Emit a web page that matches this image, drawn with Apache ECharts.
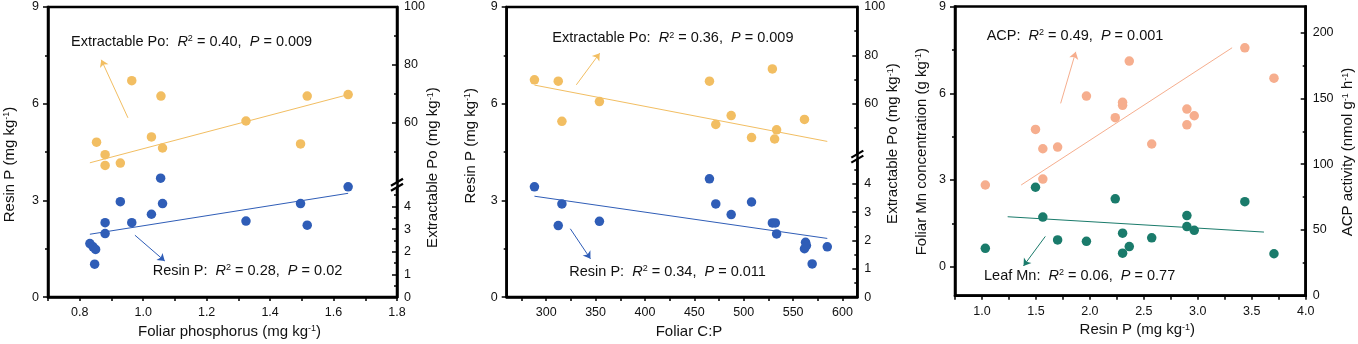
<!DOCTYPE html>
<html>
<head>
<meta charset="utf-8">
<script src="https://cdn.jsdelivr.net/npm/echarts@6/dist/echarts.min.js"></script>
<style>
  html, body { margin: 0; padding: 0; background: #fff; }
  #chart { width: 1358px; height: 344px; }
</style>
</head>
<body>
<div id="chart"></div>
<script>
// ---- panel 1: foliar P ----
const p1ResinX = [0.832, 0.842, 0.850, 0.847, 0.880, 0.880, 0.928, 0.964, 1.026, 1.055, 1.061, 1.324, 1.496, 1.517, 1.646];
const p1Resin = [1.66, 1.56, 1.48, 1.02, 2.31, 1.97, 2.96, 2.31, 2.57, 3.69, 2.90, 2.36, 2.90, 2.23, 3.42];
const p1PoX = [0.853, 0.880, 0.880, 0.928, 0.964, 1.026, 1.056, 1.061, 1.324, 1.496, 1.517, 1.646];
const p1Po = [53.4, 49.1, 45.4, 46.2, 74.6, 55.2, 69.3, 51.4, 60.7, 52.8, 69.3, 69.8];
const p1ResinFit = [[0.832, 1.95], [1.646, 3.22]];
const p1PoFit = [[0.832, 46.3], [1.646, 69.8]];
const p1ResinArrow = [[0.974, 1.92], [1.068, 1.12]];
const p1PoArrow = [[0.952, 61.8], [0.868, 81.8]];
const p1XLabels = [0.8, 1.0, 1.2, 1.4, 1.6, 1.8];
const p1XTicks = [0.7, 0.8, 0.9, 1.0, 1.1, 1.2, 1.3, 1.4, 1.5, 1.6, 1.7, 1.8];

// ---- panel 2: foliar C:P ----
const p2ResinX = [288.1, 312.2, 315.9, 353.9, 465.3, 471.7, 487.3, 507.9, 529.0, 532.0, 533.3, 562.6, 561.5, 563.5, 569.3, 584.6];
const p2Resin = [3.42, 2.22, 2.89, 2.35, 3.67, 2.89, 2.56, 2.95, 2.30, 2.30, 1.96, 1.70, 1.50, 1.60, 1.03, 1.56];
const p2PoX = [288.1, 312.2, 315.9, 353.9, 465.3, 471.7, 487.3, 507.9, 529.0, 533.3, 531.3, 561.5];
const p2Po = [69.9, 69.3, 52.7, 60.9, 69.3, 51.4, 55.1, 46.0, 74.4, 49.2, 45.4, 53.5];
const p2ResinFit = [[288.1, 3.13], [584.6, 1.82]];
const p2PoFit = [[288.1, 67.7], [584.6, 44.4]];
const p2ResinArrow = [[324.4, 2.12], [344.8, 1.19]];
const p2PoArrow = [[330.5, 67.8], [354.2, 80.9]];
const p2XLabels = [300, 350, 400, 450, 500, 550, 600];
const p2XTicks = [275, 300, 325, 350, 375, 400, 425, 450, 475, 500, 525, 550, 575, 600];

// ---- panel 3: resin P vs ACP / leaf Mn ----
const p3AcpX = [1.031, 1.496, 1.564, 1.564, 1.701, 1.968, 2.235, 2.303, 2.303, 2.365, 2.573, 2.899, 2.899, 2.967, 3.436, 3.706];
const p3Acp = [84.2, 126.5, 111.8, 88.7, 113.1, 151.9, 135.4, 147.1, 144.8, 178.5, 115.4, 142.0, 130.0, 136.9, 188.6, 165.5];
const p3MnX = [1.031, 1.496, 1.564, 1.701, 1.968, 2.235, 2.303, 2.303, 2.365, 2.573, 2.899, 2.899, 2.967, 3.436, 3.706];
const p3Mn = [0.64, 2.75, 1.72, 0.93, 0.88, 2.35, 1.16, 0.47, 0.70, 1.00, 1.77, 1.39, 1.26, 2.25, 0.45];
const p3AcpFit = [[1.363, 84.2], [3.318, 188.6]];
const p3MnFit = [[1.238, 1.73], [3.613, 1.20]];
const p3AcpArrow = [[1.729, 146.3], [1.869, 185.5]];
const p3MnArrow = [[1.587, 1.05], [1.385, 0.03]];
const p3XLabels = [1.0, 1.5, 2.0, 2.5, 3.0, 3.5, 4.0];
const p3XTicks = [0.75, 1.0, 1.25, 1.5, 1.75, 2.0, 2.25, 2.5, 2.75, 3.0, 3.25, 3.5, 3.75, 4.0];

// right-hand (broken) axes
const poLowLabels = [0, 1, 2, 3, 4];
const poLowMinor = [0.5, 1.5, 2.5, 3.5, 4.5];
const poHighLabels = [60, 80, 100];
const poHighMinor = [50, 70, 90];
const mnLabels = [0, 3, 6, 9];
const mnMinor = [1.5, 4.5, 7.5];
const acpLabels = [0, 50, 100, 150, 200];
const acpMinor = [25, 75, 125, 175];

const ORANGE = '#F2BE62';
const BLUE = '#2F5DB7';
const SALMON = '#F6AE8E';
const TEAL = '#1A7B6B';
const FONT = '"Liberation Sans", Arial, sans-serif';
const INK = '#111';

const zip = (xs, ys) => xs.map((x, i) => [x, ys[i]]);

const nameRich = {
  n: { fontSize: 15, fontFamily: FONT, color: INK },
  s: { fontSize: 9, fontFamily: FONT, color: INK, verticalAlign: 'top' }
};

function xAxis(grid, min, max, labels, ticks, name, fmt) {
  return {
    type: 'value', gridIndex: grid, min, max,
    axisLine: { show: true, onZero: false, lineStyle: { color: '#000', width: 2.5 } },
    axisTick: { show: true, customValues: ticks, length: 4, lineStyle: { color: '#000', width: 1.5 } },
    axisLabel: { customValues: labels, margin: 9, fontSize: 12.5, color: INK, fontFamily: FONT, formatter: fmt },
    splitLine: { show: false },
    name, nameLocation: 'middle', nameGap: 24,
    nameTextStyle: { rich: nameRich, padding: [0, 0, 0, 14] }
  };
}

function yAxis(grid, position, min, max, labels, ticks, tickLen, inside, showLine) {
  return {
    type: 'value', gridIndex: grid, position, min, max,
    axisLine: { show: showLine, onZero: false, lineStyle: { color: '#000', width: 2.5 } },
    axisTick: { show: true, inside, customValues: ticks, length: tickLen, lineStyle: { color: '#000', width: 1.5 } },
    axisLabel: labels
      ? { customValues: labels, margin: position === 'left' ? 9 : 7, fontSize: 12.5, color: INK, fontFamily: FONT }
      : { show: false },
    splitLine: { show: false }
  };
}

function arrow(pts, color) {
  return {
    silent: true, animation: false,
    symbol: ['none', 'arrow'], symbolSize: 7,
    label: { show: false },
    lineStyle: { color, width: 1, type: 'solid' },
    emphasis: { disabled: true },
    data: [[{ coord: pts[0] }, { coord: pts[1] }]]
  };
}

function dots(x, y, xi, yi, color, arr) {
  return {
    type: 'scatter', xAxisIndex: xi, yAxisIndex: yi, data: zip(x, y),
    symbolSize: 9.5, itemStyle: { color, opacity: 1 }, z: 3,
    markLine: arrow(arr, color)
  };
}

function fit(pts, xi, yi, color) {
  return {
    type: 'line', xAxisIndex: xi, yAxisIndex: yi, data: pts,
    symbol: 'none', lineStyle: { color, width: 1 }, z: 2, silent: true
  };
}

function note(x, y, head, r2, p) {
  return {
    type: 'text', x, y, z: 50,
    style: {
      text: '{n|' + head + ':  }{i|R}{s|2}{n| = ' + r2 + ',  }{i|P}{n| = ' + p + '}',
      align: 'left', verticalAlign: 'middle',
      rich: {
        n: { fontSize: 14.5, fontFamily: FONT, fill: INK },
        i: { fontSize: 14.5, fontFamily: FONT, fontStyle: 'italic', fill: INK },
        s: { fontSize: 9, fontFamily: FONT, fill: INK, verticalAlign: 'top' }
      }
    }
  };
}

function vTitle(x, y, text) {
  return {
    type: 'text', x, y, rotation: Math.PI / 2, z: 50,
    style: {
      text, align: 'center', verticalAlign: 'middle',
      rich: {
        n: { fontSize: 15, fontFamily: FONT, fill: INK },
        s: { fontSize: 9, fontFamily: FONT, fill: INK, verticalAlign: 'top' }
      }
    }
  };
}

const chart = echarts.init(document.getElementById('chart'));

const gridBox = { show: true, borderColor: '#000', borderWidth: 2.5, backgroundColor: 'transparent' };

chart.setOption({
  animation: false,
  backgroundColor: '#fff',
  grid: [
    Object.assign({ left: 48, top: 7, width: 349, height: 291 }, gridBox),
    Object.assign({ left: 506.7, top: 7, width: 350.6, height: 290.7 }, gridBox),
    Object.assign({ left: 955, top: 6, width: 350.7, height: 289.7 }, gridBox)
  ],
  xAxis: [
    xAxis(0, 0.7, 1.8, p1XLabels, p1XTicks, '{n|Foliar phosphorus (mg kg}{s|-1}{n|)}', v => v.toFixed(1)),
    xAxis(1, 260, 615, p2XLabels, p2XTicks, '{n|Foliar C:P}', v => String(v)),
    xAxis(2, 0.75, 4.0, p3XLabels, p3XTicks, '{n|Resin P (mg kg}{s|-1}{n|)}', v => v.toFixed(1))
  ],
  yAxis: [
    // panel 1: 0 left, 1-2 lower right, 3-4 upper right, 5 left minor
    yAxis(0, 'left', 0, 9, mnLabels, mnLabels, 5, false, true),
    yAxis(0, 'right', 0, 12.8, poLowLabels, poLowLabels, 5, true, true),
    yAxis(0, 'right', 0, 12.8, null, poLowMinor, 3, true, false),
    yAxis(0, 'right', 0, 100, poHighLabels, poHighLabels, 5, true, false),
    yAxis(0, 'right', 0, 100, null, poHighMinor, 3, true, false),
    yAxis(0, 'left', 0, 9, null, mnMinor, 3, false, false),
    // panel 2: 6 left, 7-8 lower right, 9-10 upper right, 11 left minor
    yAxis(1, 'left', 0, 9, mnLabels, mnLabels, 5, false, true),
    yAxis(1, 'right', 0, 10.25, poLowLabels, poLowLabels, 5, true, true),
    yAxis(1, 'right', 0, 10.25, null, poLowMinor, 3, true, false),
    yAxis(1, 'right', -20, 100, poHighLabels, poHighLabels, 5, true, false),
    yAxis(1, 'right', -20, 100, null, poHighMinor, 3, true, false),
    yAxis(1, 'left', 0, 9, null, mnMinor, 3, false, false),
    // panel 3: 12 left, 13 left minor, 14 right, 15 right minor
    yAxis(2, 'left', -1, 9, mnLabels, mnLabels, 5, false, true),
    yAxis(2, 'left', -1, 9, null, mnMinor, 3, false, false),
    yAxis(2, 'right', 0, 220, acpLabels, acpLabels, 5, true, true),
    yAxis(2, 'right', 0, 220, null, acpMinor, 3, true, false)
  ],
  series: [
    fit(p1PoFit, 0, 3, ORANGE),
    fit(p1ResinFit, 0, 0, BLUE),
    dots(p1PoX, p1Po, 0, 3, ORANGE, p1PoArrow),
    dots(p1ResinX, p1Resin, 0, 0, BLUE, p1ResinArrow),

    fit(p2PoFit, 1, 9, ORANGE),
    fit(p2ResinFit, 1, 6, BLUE),
    dots(p2PoX, p2Po, 1, 9, ORANGE, p2PoArrow),
    dots(p2ResinX, p2Resin, 1, 6, BLUE, p2ResinArrow),

    fit(p3AcpFit, 2, 14, SALMON),
    fit(p3MnFit, 2, 12, TEAL),
    dots(p3AcpX, p3Acp, 2, 14, SALMON, p3AcpArrow),
    dots(p3MnX, p3Mn, 2, 12, TEAL, p3MnArrow)
  ]
});

// axis break marks (//) on the right axes of panels 1 and 2, plus texts
function breakMark(xi, xMax, yi, yVal) {
  const x = chart.convertToPixel({ xAxisIndex: xi }, xMax);
  const y = chart.convertToPixel({ yAxisIndex: yi }, yVal);
  return {
    type: 'group', x, y, z: 60,
    children: [
      { type: 'polygon', shape: { points: [[-6, 2], [6, -5], [6, 0], [-6, 7]] }, style: { fill: '#fff' } },
      { type: 'line', shape: { x1: -6, y1: 2, x2: 6, y2: -5 }, style: { stroke: '#000', lineWidth: 2.2 } },
      { type: 'line', shape: { x1: -6, y1: 7, x2: 6, y2: 0 }, style: { stroke: '#000', lineWidth: 2.2 } }
    ]
  };
}

chart.setOption({
  graphic: [
    breakMark(0, 1.8, 1, 5),
    breakMark(1, 615, 7, 5),
    note(71, 41.7, 'Extractable Po', '0.40', '0.009'),
    note(152.7, 271, 'Resin P', '0.28', '0.02'),
    note(552.3, 38.3, 'Extractable Po', '0.36', '0.009'),
    note(569.3, 271.7, 'Resin P', '0.34', '0.011'),
    note(986.7, 36, 'ACP', '0.49', '0.001'),
    note(984, 276, 'Leaf Mn', '0.06', '0.77'),
    vTitle(10, 164.5, '{n|Resin P (mg kg}{s|-1}{n|)}'),
    vTitle(433.3, 167.6, '{n|Extractable Po (mg kg}{s|-1}{n|)}'),
    vTitle(470.7, 145.7, '{n|Resin P (mg kg}{s|-1}{n|)}'),
    vTitle(893.3, 143.6, '{n|Extractable Po (mg kg}{s|-1}{n|)}'),
    vTitle(921.7, 151.7, '{n|Foliar Mn concentration (g kg}{s|-1}{n|)}'),
    vTitle(1348.3, 152, '{n|ACP activity (nmol g}{s|-1}{n| h}{s|-1}{n|)}')
  ]
});
</script>
</body>
</html>
